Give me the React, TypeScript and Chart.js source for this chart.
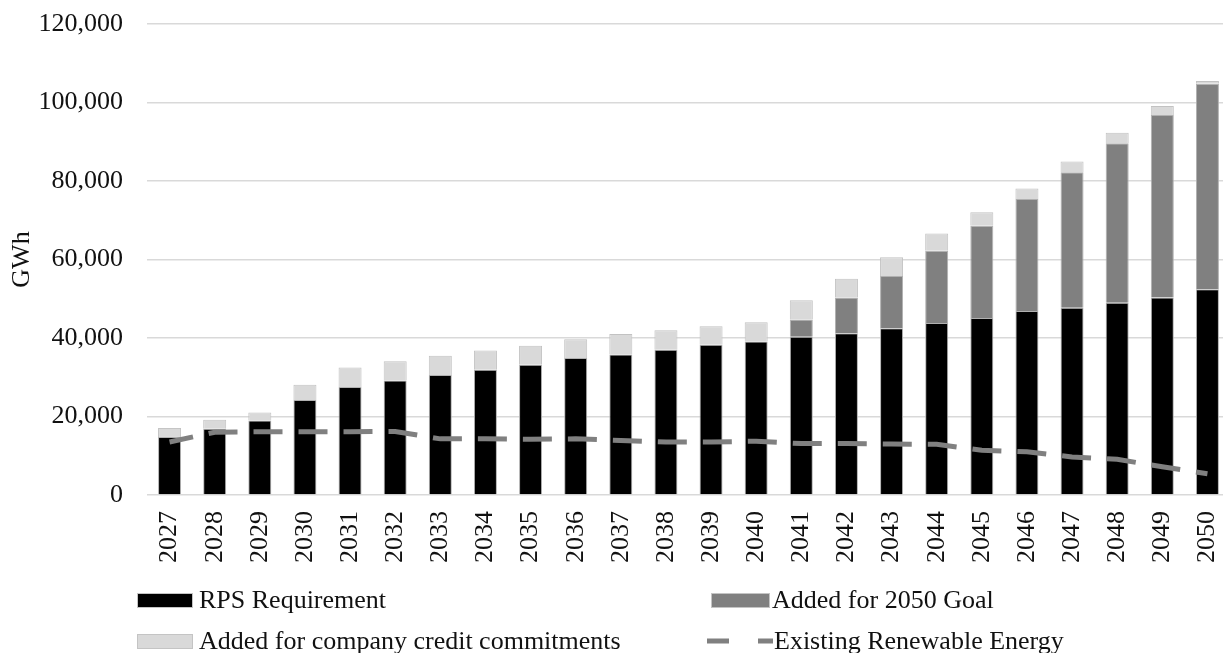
import React, { useEffect, useRef } from 'react';
import { Chart, registerables } from 'chart.js';

Chart.register(...registerables);

const years = ['2027', '2028', '2029', '2030', '2031', '2032', '2033', '2034', '2035', '2036', '2037', '2038', '2039', '2040', '2041', '2042', '2043', '2044', '2045', '2046', '2047', '2048', '2049', '2050'];
const rpsRequirement = [14800, 16900, 19000, 24200, 27500, 29200, 30600, 31900, 33200, 34900, 35800, 37000, 38300, 39100, 40300, 41200, 42500, 43800, 45100, 46900, 47700, 49000, 50300, 52400];
const addedFor2050Goal = [0, 0, 0, 0, 0, 0, 0, 0, 0, 0, 0, 0, 0, 0, 4400, 9100, 13300, 18400, 23500, 28500, 34500, 40600, 46500, 52400];
const companyCredit = [2300, 2300, 2000, 3900, 5000, 4900, 4900, 4900, 4800, 4800, 5200, 4950, 4700, 4900, 4900, 4800, 4800, 4400, 3450, 2700, 2800, 2700, 2300, 700];
const existingRenewable = [13500, 16000, 16100, 16100, 16100, 16200, 14300, 14300, 14200, 14300, 13900, 13500, 13500, 13700, 13100, 13100, 13000, 12900, 11400, 11000, 9700, 9100, 7200, 5400];
const yTicks = [0, 20000, 40000, 60000, 80000, 100000, 120000];

const FONT = '"Liberation Serif", "Times New Roman", serif';
const TEXT = '#111111';

const legendPlugin = {
  id: 'gridLegend',
  afterDraw(chart: any) {
    const ctx = chart.ctx;
    const ds = chart.data.datasets;
    ctx.save();
    ctx.font = `26px ${FONT}`;
    ctx.fillStyle = TEXT;
    ctx.textBaseline = 'middle';
    const slots = [
      { i: 0, bx: 137, bw: 56, y: 600, tx: 199 },
      { i: 1, bx: 711, bw: 59, y: 600, tx: 772 },
      { i: 2, bx: 137, bw: 56, y: 641, tx: 199 },
      { i: 3, bx: 707, bw: 66, y: 641, tx: 774 },
    ];
    slots.forEach((s) => {
      const d = ds[s.i];
      if (d.type === 'line') {
        ctx.strokeStyle = d.borderColor;
        ctx.lineWidth = 5;
        ctx.setLineDash([22, 29]);
        ctx.beginPath();
        ctx.moveTo(s.bx, s.y);
        ctx.lineTo(s.bx + s.bw, s.y);
        ctx.stroke();
        ctx.setLineDash([]);
      } else {
        ctx.fillStyle = d.backgroundColor;
        ctx.fillRect(s.bx, s.y - 7, s.bw, 15);
        ctx.strokeStyle = '#c4c4c4';
        ctx.lineWidth = 1;
        ctx.strokeRect(s.bx + 0.5, s.y - 6.5, s.bw - 1, 14);
      }
      ctx.fillStyle = TEXT;
      ctx.fillText(d.label, s.tx, s.y + 1);
    });
    ctx.restore();
  },
};

export default function App() {
  const ref = useRef<HTMLCanvasElement | null>(null);

  useEffect(() => {
    if (!ref.current) return;
    const barBorder = (c: any) => (c.raw ? 1 : 0);
    const chart = new Chart(ref.current, {
      type: 'bar',
      data: {
        labels: years,
        datasets: [
          {
            type: 'bar',
            label: 'RPS Requirement',
            data: rpsRequirement,
            backgroundColor: '#000000',
            borderColor: '#b0b0b0',
            borderWidth: barBorder,
            order: 1,
          },
          {
            type: 'bar',
            label: 'Added for 2050 Goal',
            data: addedFor2050Goal,
            backgroundColor: '#808080',
            borderColor: '#b0b0b0',
            borderWidth: barBorder,
            order: 1,
          },
          {
            type: 'bar',
            label: 'Added for company credit commitments',
            data: companyCredit,
            backgroundColor: '#d9d9d9',
            borderColor: '#c2c2c2',
            borderWidth: barBorder,
            order: 1,
          },
          {
            type: 'line',
            label: 'Existing Renewable Energy',
            data: existingRenewable,
            borderColor: '#808080',
            backgroundColor: '#808080',
            borderWidth: 5,
            borderDash: [29, 16],
            borderDashOffset: 5,
            pointRadius: 0,
            tension: 0,
            fill: false,
            order: 0,
          },
        ] as any,
      },
      options: {
        animation: false,
        responsive: false,
        events: [],
        layout: { padding: { left: 0, top: 24, right: 10, bottom: 83 } },
        datasets: {
          bar: { barPercentage: 0.51, categoryPercentage: 1 },
        },
        plugins: {
          legend: { display: false },
          tooltip: { enabled: false },
          title: { display: false },
        },
        scales: {
          x: {
            stacked: true,
            grid: { display: false, drawTicks: false },
            border: { display: false },
            ticks: {
              autoSkip: false,
              maxRotation: 90,
              minRotation: 90,
              padding: 16,
              color: TEXT,
              font: { family: FONT, size: 26 },
            },
            afterFit: (s: any) => {
              s.height = 75;
              s.paddingLeft = 0;
              s.paddingRight = 0;
            },
          },
          y: {
            stacked: true,
            min: 0,
            max: 120000,
            afterBuildTicks: (s: any) => {
              s.ticks = yTicks.map((v) => ({ value: v }));
            },
            grid: { color: '#d9d9d9', lineWidth: 1.5, drawTicks: false },
            border: { display: false },
            ticks: {
              padding: 24,
              color: TEXT,
              font: { family: FONT, size: 26 },
              callback: (v: any) => Number(v).toLocaleString('en-US'),
            },
            title: {
              display: true,
              text: 'GWh',
              color: TEXT,
              font: { family: FONT, size: 26 },
              padding: { top: 7, bottom: 0 },
            },
            afterFit: (s: any) => {
              s.width = 147;
              s.paddingTop = 0;
              s.paddingBottom = 0;
            },
          },
        },
      },
      plugins: [legendPlugin],
    });
    return () => chart.destroy();
  }, []);

  return (
    <div style={{ position: 'fixed', left: 0, top: 0, width: 1223, height: 653, overflow: 'hidden', background: '#fff' }}>
      <canvas ref={ref} width={1240} height={653} style={{ display: 'block', width: 1240, height: 653 }} />
    </div>
  );
}
